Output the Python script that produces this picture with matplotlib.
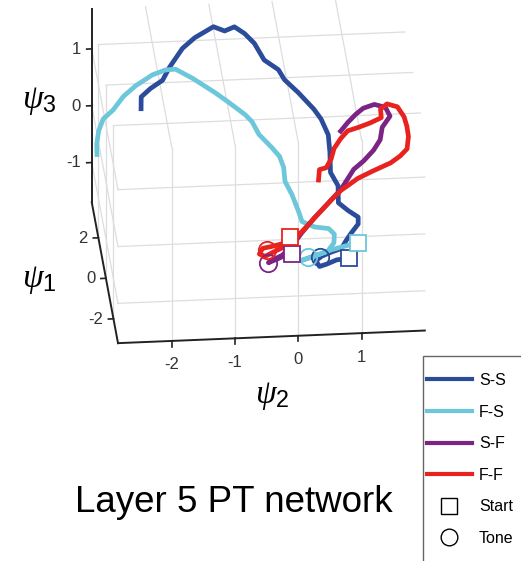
import numpy as np
import matplotlib.pyplot as plt
from matplotlib.lines import Line2D
from matplotlib.patches import Rectangle

plt.rcParams['font.family'] = ['Liberation Sans', 'DejaVu Sans']
plt.rcParams['mathtext.fontset'] = 'custom'
plt.rcParams['mathtext.it'] = 'Liberation Serif:italic'
plt.rcParams['mathtext.rm'] = 'Liberation Sans'

# trajectories in (psi2, psi1, psi3), first point = start
ss_psi2 = [0.86, 0.67, 0.51, 0.39, 0.34, 0.44, 0.60, 0.76, 0.85, 0.94, 1.06, 1.07, 0.92, 0.78, 0.80, 0.70,
           0.72, 0.72, 0.63, 0.53, 0.31, 0.11, 0.03, -0.18, -0.31, -0.45, -0.60, -0.76, -0.93, -1.24, -1.45,
           -1.68, -1.81, -2.01, -2.17, -2.19]
ss_psi1 = [-2.13, -2.15, -2.25, -2.30, -2.15, -2.05, -1.95, -1.88, -1.68, -1.50, -1.30, -1.13, -0.95, -0.75,
           -0.33, 0.00, 0.50, 0.93, 1.33, 1.58, 2.00, 2.33, 2.58, 2.83, 3.25, 3.50, 3.68, 3.58, 3.70, 3.45,
           3.20, 2.75, 2.43, 2.25, 2.05, 1.75]
ss_psi3 = [-0.76, -0.77, -0.80, -0.82, -0.77, -0.73, -0.70, -0.67, -0.60, -0.54, -0.46, -0.40, -0.34, -0.27,
           -0.12, 0.00, 0.18, 0.33, 0.47, 0.56, 0.71, 0.83, 0.92, 1.01, 1.16, 1.25, 1.31, 1.28, 1.32, 1.23,
           1.14, 0.98, 0.87, 0.80, 0.73, 0.63]

fs_psi2 = [1.03, 0.81, 0.60, 0.41, 0.23, 0.12, 0.31, 0.54, 0.65, 0.67, 0.59, 0.37, 0.18, 0.14, 0.06, -0.03,
           -0.03, -0.08, -0.19, -0.37, -0.46, -0.56, -0.80, -1.00, -1.15, -1.34, -1.59, -1.75, -1.96, -2.24,
           -2.45, -2.63, -2.80, -2.89, -2.94, -2.95]
fs_psi1 = [-1.75, -1.83, -1.90, -2.00, -2.08, -2.13, -2.05, -1.93, -1.73, -1.53, -1.38, -1.33, -1.18, -0.93,
           -0.50, -0.18, 0.18, 0.45, 0.68, 1.00, 1.33, 1.50, 1.83, 2.08, 2.25, 2.45, 2.70, 2.68, 2.58, 2.33,
           2.08, 1.75, 1.55, 1.25, 0.93, 0.68]
fs_psi3 = [-0.63, -0.65, -0.68, -0.71, -0.74, -0.76, -0.73, -0.69, -0.62, -0.54, -0.49, -0.47, -0.42, -0.33,
           -0.18, -0.06, 0.06, 0.16, 0.24, 0.36, 0.47, 0.54, 0.65, 0.74, 0.80, 0.88, 0.96, 0.96, 0.92, 0.83,
           0.74, 0.63, 0.55, 0.45, 0.33, 0.24]

sf_psi2 = [-0.02, -0.14, -0.27, -0.41, -0.35, -0.18, -0.01, 0.16, 0.38, 0.62, 0.84, 1.07, 1.24, 1.41, 1.53,
           1.58, 1.72, 1.66, 1.49, 1.31, 1.18, 1.04, 0.92]
sf_psi1 = [-1.95, -2.00, -2.08, -2.15, -2.10, -1.98, -1.75, -1.45, -1.10, -0.75, -0.43, 0.05, 0.25, 0.50, 0.75,
           1.05, 1.33, 1.55, 1.63, 1.55, 1.40, 1.20, 1.00]
sf_psi3 = [-0.70, -0.71, -0.74, -0.77, -0.75, -0.71, -0.63, -0.52, -0.39, -0.27, -0.15, 0.02, 0.09, 0.18, 0.27,
           0.38, 0.47, 0.55, 0.58, 0.55, 0.50, 0.43, 0.36]

ff_psi2 = [-0.03, -0.17, -0.33, -0.48, -0.54, -0.45, -0.29, -0.12, 0.04, 0.28, 0.50, 0.67, 0.84, 0.96, 1.12,
           1.38, 1.66, 1.82, 1.94, 1.98, 1.97, 1.94, 1.85, 1.69, 1.58, 1.58, 1.40, 1.19, 1.03, 0.91, 0.79,
           0.73, 0.64, 0.53, 0.50]
ff_psi1 = [-1.55, -1.70, -1.75, -1.80, -1.93, -2.00, -1.88, -1.78, -1.60, -1.25, -0.93, -0.68, -0.45, -0.33,
           -0.18, 0.00, 0.18, 0.33, 0.50, 0.80, 1.05, 1.30, 1.55, 1.63, 1.50, 1.30, 1.18, 1.08, 1.00, 0.83,
           0.58, 0.33, 0.13, 0.08, -0.18]
ff_psi3 = [-0.55, -0.61, -0.63, -0.64, -0.69, -0.71, -0.67, -0.63, -0.57, -0.45, -0.33, -0.24, -0.16, -0.12,
           -0.06, 0.00, 0.06, 0.12, 0.18, 0.29, 0.38, 0.46, 0.55, 0.58, 0.54, 0.46, 0.42, 0.38, 0.36, 0.29,
           0.21, 0.12, 0.04, 0.03, -0.06]

# tone onset points: S-S, F-S, S-F, F-F
tone_psi2 = [0.41, 0.22, -0.41, -0.42]
tone_psi1 = [-2.08, -2.05, -2.15, -1.85]
tone_psi3 = [-0.74, -0.73, -0.77, -0.66]

names = ['S-S', 'F-S', 'S-F', 'F-F']
colors = ['#2b4b9b', '#6cc7da', '#7b2483', '#e8231f']
trajs = [(ss_psi2, ss_psi1, ss_psi3), (fs_psi2, fs_psi1, fs_psi3),
         (sf_psi2, sf_psi1, sf_psi3), (ff_psi2, ff_psi1, ff_psi3)]

x_ticks = [-2, -1, 0, 1]
y_ticks = [-2, 0, 2]
z_ticks = [-1, 0, 1]
x0, x1 = -2.85, 2.0
yn, yf = 3.75, -3.2   # near / far psi1
z0, z1 = -1.7, 1.7

fig = plt.figure(figsize=(5.21, 5.61), dpi=100)
ax = fig.add_axes([-0.0384, 0.268, 1.044, 0.836], projection='3d', proj_type='ortho')
ax.computed_zorder = False

# grid on the back panes (ceiling, far wall, left wall)
gc = dict(color='#dddddd', lw=0.9, zorder=0)
for t in x_ticks:
    ax.plot([t, t], [yn, yf], [z1, z1], **gc)
    ax.plot([t, t], [yf, yf], [z0, z1], **gc)
for t in y_ticks:
    ax.plot([x0, x1], [t, t], [z1, z1], **gc)
    ax.plot([x0, x0], [t, t], [z0, z1], **gc)
for t in z_ticks:
    ax.plot([x0, x1], [yf, yf], [t, t], **gc)
    ax.plot([x0, x0], [yn, yf], [t, t], **gc)

for (x, y, z), c in zip(trajs, colors):
    ax.plot(x, y, z, color=c, lw=3.4, zorder=2)
for i, c in enumerate(colors):
    x, y, z = trajs[i]
    ax.plot([x[0]], [y[0]], [z[0]], 's', ms=11, mfc='white', mec=c, mew=1.3, zorder=3)
    ax.plot([tone_psi2[i]], [tone_psi1[i]], [tone_psi3[i]], 'o', ms=12.5, mfc='none', mec=c,
            mew=1.3, zorder=3)

ax.set_xlim(x0, x1)
ax.set_ylim(yn, yf)
ax.set_zlim(z0, z1)
ax.set_xticks([])
ax.set_yticks([])
ax.set_zticks([])
ax.grid(False)
ax.set_box_aspect((311, 304, 221))
ax.view_init(elev=-28, azim=-85, roll=0)

for axis in (ax.xaxis, ax.yaxis, ax.zaxis):
    axis.set_pane_color((1, 1, 1, 0))
    axis.pane.set_edgecolor('none')
    axis.line.set_visible(False)

# axis lines the MATLAB way
ac = dict(color='#222222', zorder=4)
ax.plot([x0, x0], [yn, yn], [z0, z1], lw=1.4, **ac)
ax.plot([x0, x0], [yn, yf], [z0, z0], lw=1.4, **ac)
ax.plot([x0, x1], [yf, yf], [z0, z0], lw=1.4, **ac)
for t in z_ticks:
    ax.plot([x0, x0 - 0.08], [yn, yn], [t, t], lw=1.2, **ac)
for t in y_ticks:
    ax.plot([x0, x0 - 0.08], [t, t], [z0, z0], lw=1.2, **ac)
for t in x_ticks:
    ax.plot([t, t], [yf, yf], [z0, z0 - 0.1], lw=1.2, **ac)

# tick labels: project the 3D anchor points through the axes to figure coords
fig.canvas.draw()
M = ax.get_proj()


def to_fig(x, y, z):
    v = M @ np.array([x, y, z, 1.0])
    disp = ax.transData.transform((v[0] / v[3], v[1] / v[3]))
    return fig.transFigure.inverted().transform(disp)


tk = dict(fontsize=12, color='#333333')
for t in z_ticks:
    fx, fy = to_fig(x0 - 0.17, yn, t)
    fig.text(fx, fy, str(t), ha='right', va='center', **tk)
for t in y_ticks:
    fx, fy = to_fig(x0 - 0.17, t, z0)
    fig.text(fx, fy, str(t), ha='right', va='center', **tk)
for t in x_ticks:
    fx, fy = to_fig(t, yf, z0 - 0.42)
    fig.text(fx, fy, str(t), ha='center', va='center', **tk)

fig.text(0.075, 0.82, r'$\psi_3$', fontsize=24, ha='center', va='center')
fig.text(0.075, 0.50, r'$\psi_1$', fontsize=24, ha='center', va='center')
fig.text(0.522, 0.295, r'$\psi_2$', fontsize=24, ha='center', va='center')

fig.text(0.448, 0.105, 'Layer 5 PT network', fontsize=26.5, ha='center', va='center')

handles = [Line2D([], [], color=c, lw=3) for c in colors]
handles += [Line2D([], [], ls='none', marker='s', ms=11.5, mfc='white', mec='black', mew=1),
            Line2D([], [], ls='none', marker='o', ms=12, mfc='white', mec='black', mew=1)]
fig.legend(handles, names + ['Start', 'Tone'], loc='upper left',
           bbox_to_anchor=(423 / 521, 1 - 369 / 561), fontsize=11.5, frameon=False,
           handlelength=2.8, handletextpad=0.45, labelspacing=1.04, borderpad=0.25,
           borderaxespad=0)
fig.patches.append(Rectangle((423 / 521, -0.05), 0.3, 1 - 356 / 561 + 0.05, transform=fig.transFigure,
                             fill=False, edgecolor='#666666', lw=1))

plt.savefig('out.png', dpi=100)
